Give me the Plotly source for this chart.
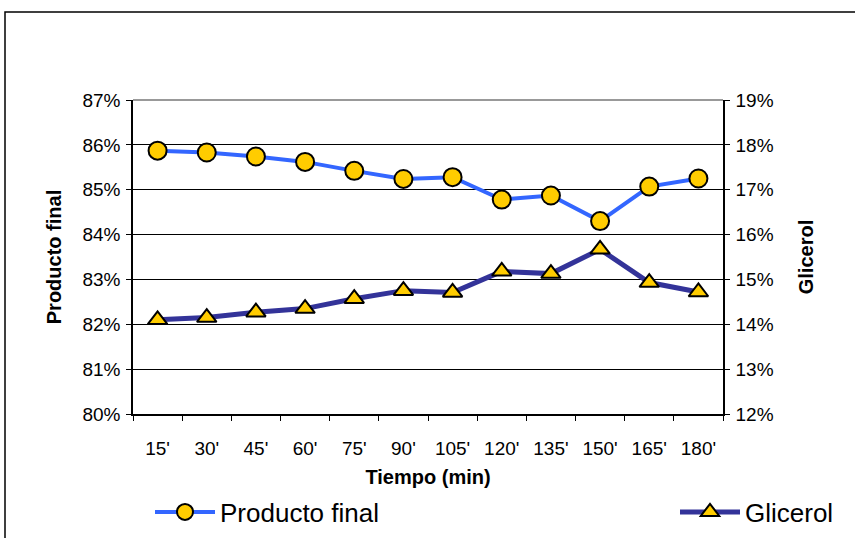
import plotly.graph_objects as go

categorias = ["15'", "30'", "45'", "60'", "75'", "90'", "105'", "120'", "135'", "150'", "165'", "180'"]
producto_final = [0.8587, 0.8583, 0.8574, 0.8562, 0.8542, 0.8524, 0.8528, 0.8478, 0.8487, 0.8430, 0.8507, 0.8525]
glicerol = [0.1410, 0.1415, 0.1427, 0.1435, 0.1457, 0.1475, 0.1471, 0.1518, 0.1513, 0.1567, 0.1493, 0.1472]

y_ticks_izq = [0.80, 0.81, 0.82, 0.83, 0.84, 0.85, 0.86, 0.87]
y_ticks_der = [0.12, 0.13, 0.14, 0.15, 0.16, 0.17, 0.18, 0.19]

FONT = "Liberation Sans, Arial, sans-serif"

fig = go.Figure()
fig.add_trace(go.Scatter(
    x=categorias, y=producto_final, name="Producto final", mode="lines+markers",
    line=dict(color="#3366FF", width=4),
    marker=dict(symbol="circle", size=18, color="#FFCC00", line=dict(color="black", width=2)),
    yaxis="y", legend="legend"))
fig.add_trace(go.Scatter(
    x=categorias, y=glicerol, name="Glicerol", mode="lines+markers",
    line=dict(color="#333399", width=5),
    marker=dict(symbol="triangle-up", size=17, color="#FFCC00", line=dict(color="black", width=2)),
    yaxis="y2", legend="legend2"))

L, R, T, B = 133, 723, 100, 414
W, H = 855, 538
pw, ph = R - L, B - T

def px2x(px):
    return (px - L) / pw

def px2y(py):
    return (B - py) / ph

def cx(px):
    return px / W

def cy(py):
    return 1 - py / H

n = len(categorias)
limites = [i - 0.5 for i in range(n + 1)]

leg_common = dict(orientation="h", xref="container", yref="container", xanchor="left",
                  yanchor="middle", font=dict(size=26, family=FONT, color="black"),
                  bgcolor="rgba(0,0,0,0)", itemwidth=60)

fig.update_layout(
    width=W, height=H,
    margin=dict(l=L, r=W - R, t=T, b=H - B, pad=0, autoexpand=False),
    paper_bgcolor="white", plot_bgcolor="white",
    font=dict(family=FONT, color="black", size=19),
    showlegend=True,
    legend=dict(x=cx(150), y=cy(512), **leg_common),
    legend2=dict(x=cx(675), y=cy(512), **leg_common),
    xaxis=dict(
        type="category", showline=True, linecolor="black", linewidth=1.5,
        ticks="outside", ticklen=5, tickcolor="black", tickson="boundaries",
        showgrid=False, tickfont=dict(size=19), ticklabelstandoff=16, automargin=False,
        title=dict(text="<b>Tiempo (min)</b>", font=dict(size=20), standoff=19),
        range=[-0.5, n - 0.5],
    ),
    xaxis2=dict(
        overlaying="x", anchor="y", range=[-0.5, n - 0.5], tickvals=limites,
        ticks="inside", ticklen=5, tickcolor="black", showticklabels=False,
        showgrid=False, zeroline=False, showline=False, automargin=False,
    ),
    yaxis=dict(
        range=[0.80, 0.87], tickvals=y_ticks_izq, tickformat=".0%",
        showline=True, linecolor="black", linewidth=1.5, ticks="outside", ticklen=5, tickcolor="black",
        showgrid=True, gridcolor="black", gridwidth=1, zeroline=False,
        tickfont=dict(size=19), ticklabelstandoff=2, automargin=False,
        title=dict(text="<b>Producto final</b>", font=dict(size=20), standoff=15),
    ),
    yaxis2=dict(
        range=[0.12, 0.19], tickvals=y_ticks_der, tickformat=".0%", overlaying="y", side="right",
        showline=True, linecolor="black", linewidth=1.5, ticks="outside", ticklen=5, tickcolor="black",
        showgrid=False, zeroline=False, tickfont=dict(size=19), ticklabelstandoff=2, automargin=False,
        title=dict(text="<b>Glicerol</b>", font=dict(size=20), standoff=26),
    ),
    shapes=[
        dict(type="rect", xref="paper", yref="paper", x0=px2x(5), x1=px2x(870),
             y0=px2y(560), y1=px2y(12), line=dict(color="black", width=1.5), layer="below"),
        dict(type="line", xref="paper", yref="paper", x0=0, x1=1, y0=1, y1=1,
             line=dict(color="#999999", width=2)),
    ],
)

fig.write_html("out.html")
